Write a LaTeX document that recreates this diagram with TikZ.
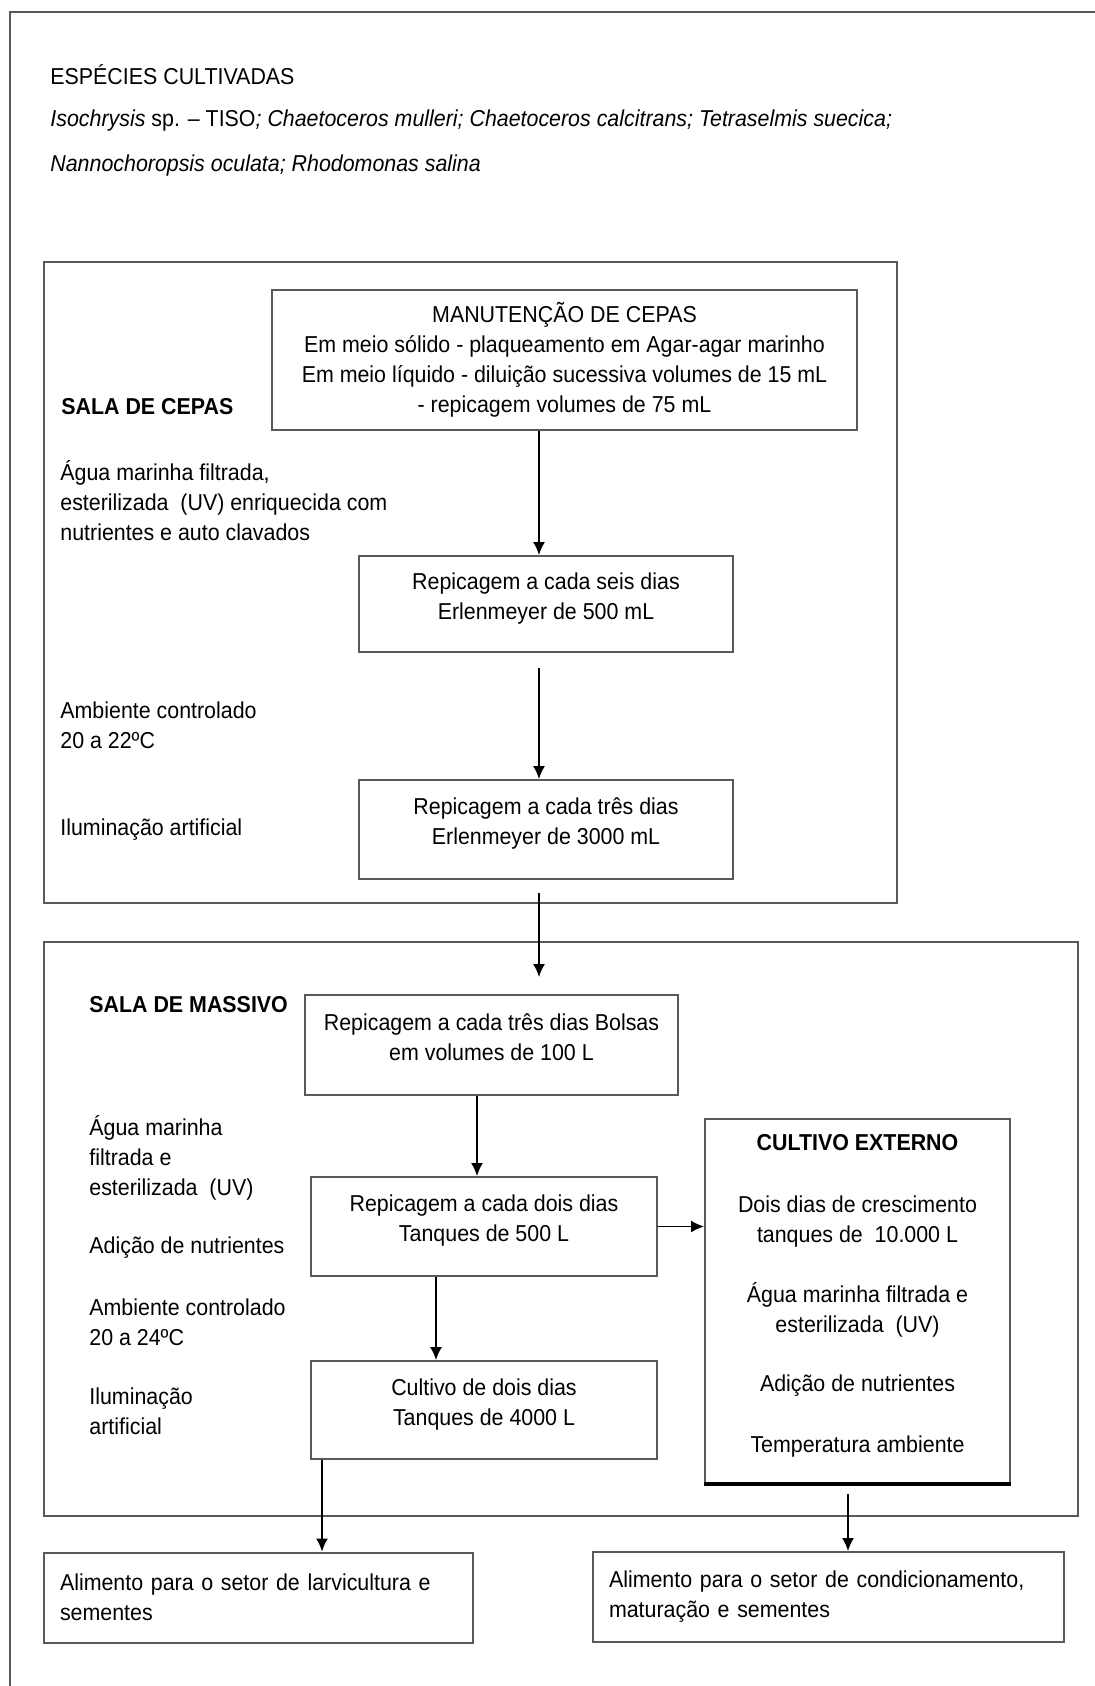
\documentclass[tikz,border=0pt]{standalone}
\usepackage{fontspec}
\setmainfont[FakeStretch=0.93]{Liberation Sans}
\usetikzlibrary{arrows.meta}

\tikzset{
    every node/.append style={font=\fontsize{11.5pt}{15pt}\selectfont},
    boite/.style={draw=black!65, line width=1pt, rectangle, align=center, inner sep=0pt},
    etape/.style={boite, execute at end node={\rule[-8pt]{0pt}{8pt}}},
    cadre/.style={draw=black!65, line width=1pt, inner sep=0pt},
    texte/.style={align=left, inner sep=0pt, anchor=west},
    fleche/.style={line width=0.75pt, -{Latex[length=6.5pt, width=6pt]}},
}

\begin{document}
\begin{tikzpicture}[x=0.5pt, y=-0.5pt]
    \useasboundingbox (0,0) rectangle (1094,1686);
    \draw[cadre] (10,12) rectangle (1120,1720);

    % Espèces cultivées
    \node[texte] (titre) at (50,75) {ESPÉCIES CULTIVADAS};
    \node[texte] (especes1) at (50,121) {\textit{Isochrysis} sp. – TISO\textit{; Chaetoceros mulleri; Chaetoceros calcitrans; Tetraselmis suecica;}};
    \node[texte] (especes2) at (50,166) {\textit{Nannochoropsis oculata; Rhodomonas salina}};

    % Sala de cepas
    \node[cadre, minimum width=426.5pt, minimum height=320.5pt] (salacepas) at (470.5,582.5) {};
    \node[texte] (nomcepas) at (61,407) {\textbf{SALA DE CEPAS}};
    \node[boite, minimum width=292.5pt, minimum height=70pt] (manut) at (564.5,360) {MANUTENÇÃO DE CEPAS\\Em meio sólido - plaqueamento em Agar-agar marinho\\Em meio líquido - diluição sucessiva volumes de 15 mL\\- repicagem volumes de 75 mL};
    \node[etape, minimum width=187pt, minimum height=48pt] (seis) at (546,604) {Repicagem a cada seis dias\\Erlenmeyer de 500 mL};
    \node[etape, minimum width=187pt, minimum height=49.5pt] (tres) at (546,829.5) {Repicagem a cada três dias\\Erlenmeyer de 3000 mL};
    \node[texte] (agua1) at (60,501) {Água marinha filtrada,\\esterilizada~ (UV) enriquecida com\\nutrientes e auto clavados};
    \node[texte] (ambiente1) at (60,725) {Ambiente controlado\\20 a 22ºC};
    \node[texte] (luz1) at (60,830) {Iluminação artificial};
    \draw[fleche] ([xshift=-3.5pt]seis.north |- manut.south) -- ([xshift=-3.5pt]seis.north);
    \draw[fleche, shorten <=7.5pt] ([xshift=-3.5pt]seis.south) -- ([xshift=-3.5pt]tres.north);

    % Sala de massivo
    \node[cadre, minimum width=517pt, minimum height=287pt] (salamassivo) at (561,1229) {};
    \node[texte] (nommassivo) at (89,1005) {\textbf{SALA DE MASSIVO}};
    \node[etape, minimum width=186.5pt, minimum height=50pt] (bolsas) at (491.5,1045) {Repicagem a cada três dias Bolsas\\em volumes de 100 L};
    \node[etape, minimum width=173pt, minimum height=49.5pt] (t500) at (484,1226.5) {Repicagem a cada dois dias\\Tanques de 500 L};
    \node[etape, minimum width=173pt, minimum height=49pt] (t4000) at (484,1410) {Cultivo de dois dias\\Tanques de 4000 L};
    \node[texte] (agua2) at (89,1158) {Água marinha\\filtrada e\\esterilizada~ (UV)};
    \node[texte] (nutri2) at (89,1248) {Adição de nutrientes};
    \node[texte] (ambiente2) at (89,1322) {Ambiente controlado\\20 a 24ºC};
    \node[texte] (luz2) at (89,1411) {Iluminação\\artificial};
    \draw[fleche, shorten <=6.5pt, shorten >=8.5pt] ([xshift=-3.5pt]tres.south) -- ([xshift=-3.5pt]tres.south |- bolsas.north);
    \draw[fleche] ([xshift=-3.5pt]t500.north |- bolsas.south) -- ([xshift=-3.5pt]t500.north);
    \draw[fleche] ([xshift=-24pt]t500.south) -- ([xshift=-24pt]t4000.north);

    % Cultivo externo
    \node[etape, minimum width=152.5pt, minimum height=182pt] (externo) at (857.5,1301) {\textbf{CULTIVO EXTERNO}\\[16pt]Dois dias de crescimento\\tanques de~ 10.000 L\\[15pt]Água marinha filtrada e\\esterilizada~ (UV)\\[14.5pt]Adição de nutrientes\\[15.5pt]Temperatura ambiente};
    \draw[line width=1.6pt] (externo.south west) -- (externo.south east);
    \draw[fleche] (t500.east) -- (t500.east -| externo.west);

    % Alimento
    \node[boite, align=left, text width=198.5pt, inner xsep=8pt, minimum height=45pt] (alim1) at (258.5,1597.5) {Alimento para o setor de larvicultura e\\sementes};
    \node[boite, align=left, text width=219.5pt, inner xsep=8pt, minimum height=45pt] (alim2) at (828.5,1597) {Alimento para o setor de condicionamento,\\maturação e sementes};
    \draw[fleche] ([xshift=-81pt]t4000.south) -- ([xshift=-81pt]t4000.south |- alim1.north);
    \draw[fleche, shorten <=5pt] ([xshift=-4.75pt]externo.south) -- ([xshift=-4.75pt]externo.south |- alim2.north);
\end{tikzpicture}
\end{document}
